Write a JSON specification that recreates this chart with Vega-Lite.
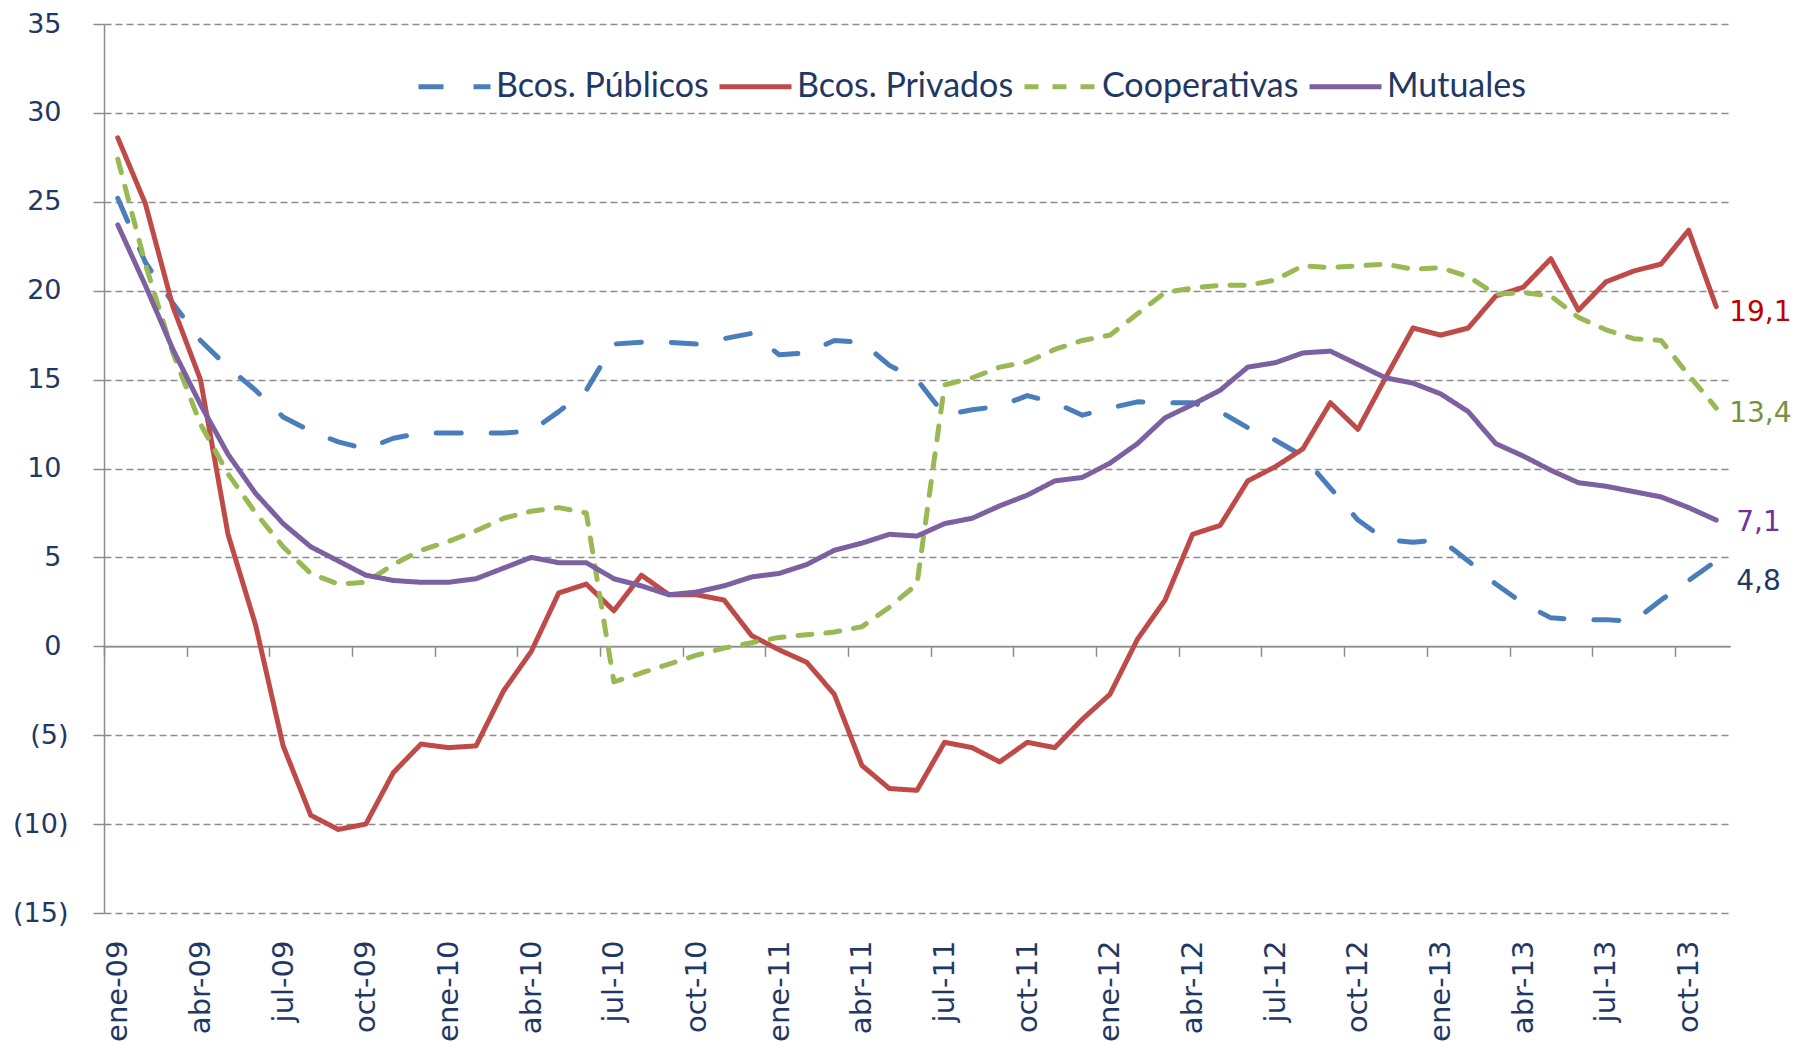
{
  "$schema": "https://vega.github.io/schema/vega-lite/v6.json",
  "width": 1626,
  "height": 889,
  "autosize": {"type": "none"},
  "padding": {"left": 104, "top": 24, "right": 69, "bottom": 130},
  "background": "white",
  "config": {
    "view": {"stroke": null},
    "locale": {"number": {"decimal": ",", "thousands": ".", "grouping": [3], "currency": ["$", ""]}}
  },
  "datasets": {
    "d": [
      {"mes": "ene-09", "pub": 25.2, "priv": 28.6, "coop": 27.4, "mut": 23.7},
      {"mes": "feb-09", "pub": 21.6, "priv": 24.9, "coop": 21.5, "mut": 20.3},
      {"mes": "mar-09", "pub": 19.3, "priv": 19.1, "coop": 16.5, "mut": 16.7},
      {"mes": "abr-09", "pub": 17.2, "priv": 15.0, "coop": 12.5, "mut": 13.6},
      {"mes": "may-09", "pub": 15.7, "priv": 6.3, "coop": 9.7, "mut": 10.8},
      {"mes": "jun-09", "pub": 14.4, "priv": 1.2, "coop": 7.5, "mut": 8.6},
      {"mes": "jul-09", "pub": 12.9, "priv": -5.6, "coop": 5.6, "mut": 6.9},
      {"mes": "ago-09", "pub": 12.1, "priv": -9.5, "coop": 4.1, "mut": 5.6},
      {"mes": "sep-09", "pub": 11.5, "priv": -10.3, "coop": 3.5, "mut": 4.8},
      {"mes": "oct-09", "pub": 11.1, "priv": -10.0, "coop": 3.6, "mut": 4.0},
      {"mes": "nov-09", "pub": 11.7, "priv": -7.1, "coop": 4.6, "mut": 3.7},
      {"mes": "dic-09", "pub": 12.0, "priv": -5.5, "coop": 5.4, "mut": 3.6},
      {"mes": "ene-10", "pub": 12.0, "priv": -5.7, "coop": 5.9, "mut": 3.6},
      {"mes": "feb-10", "pub": 12.0, "priv": -5.6, "coop": 6.5, "mut": 3.8},
      {"mes": "mar-10", "pub": 12.0, "priv": -2.5, "coop": 7.2, "mut": 4.4},
      {"mes": "abr-10", "pub": 12.1, "priv": -0.3, "coop": 7.6, "mut": 5.0},
      {"mes": "may-10", "pub": 13.2, "priv": 3.0, "coop": 7.8, "mut": 4.7},
      {"mes": "jun-10", "pub": 14.4, "priv": 3.5, "coop": 7.5, "mut": 4.7},
      {"mes": "jul-10", "pub": 17.0, "priv": 2.0, "coop": -2.0, "mut": 3.8},
      {"mes": "ago-10", "pub": 17.1, "priv": 4.0, "coop": -1.5, "mut": 3.4},
      {"mes": "sep-10", "pub": 17.1, "priv": 2.9, "coop": -1.0, "mut": 2.9},
      {"mes": "oct-10", "pub": 17.0, "priv": 2.9, "coop": -0.5, "mut": 3.05},
      {"mes": "nov-10", "pub": 17.3, "priv": 2.6, "coop": -0.1, "mut": 3.4},
      {"mes": "dic-10", "pub": 17.6, "priv": 0.6, "coop": 0.2, "mut": 3.9},
      {"mes": "ene-11", "pub": 16.4, "priv": -0.2, "coop": 0.5, "mut": 4.1},
      {"mes": "feb-11", "pub": 16.5, "priv": -0.9, "coop": 0.65, "mut": 4.6},
      {"mes": "mar-11", "pub": 17.2, "priv": -2.7, "coop": 0.8, "mut": 5.4},
      {"mes": "abr-11", "pub": 17.1, "priv": -6.7, "coop": 1.1, "mut": 5.8},
      {"mes": "may-11", "pub": 15.8, "priv": -8.0, "coop": 2.2, "mut": 6.3},
      {"mes": "jun-11", "pub": 15.0, "priv": -8.1, "coop": 3.5, "mut": 6.2},
      {"mes": "jul-11", "pub": 13.0, "priv": -5.4, "coop": 14.7, "mut": 6.9},
      {"mes": "ago-11", "pub": 13.3, "priv": -5.7, "coop": 15.1, "mut": 7.2},
      {"mes": "sep-11", "pub": 13.5, "priv": -6.5, "coop": 15.7, "mut": 7.9},
      {"mes": "oct-11", "pub": 14.1, "priv": -5.4, "coop": 16.0, "mut": 8.5},
      {"mes": "nov-11", "pub": 13.7, "priv": -5.7, "coop": 16.7, "mut": 9.3},
      {"mes": "dic-11", "pub": 13.0, "priv": -4.1, "coop": 17.2, "mut": 9.5},
      {"mes": "ene-12", "pub": 13.4, "priv": -2.7, "coop": 17.5, "mut": 10.3},
      {"mes": "feb-12", "pub": 13.75, "priv": 0.4, "coop": 18.7, "mut": 11.4},
      {"mes": "mar-12", "pub": 13.7, "priv": 2.6, "coop": 19.9, "mut": 12.85},
      {"mes": "abr-12", "pub": 13.7, "priv": 6.3, "coop": 20.15, "mut": 13.6},
      {"mes": "may-12", "pub": 13.2, "priv": 6.8, "coop": 20.3, "mut": 14.4},
      {"mes": "jun-12", "pub": 12.3, "priv": 9.3, "coop": 20.3, "mut": 15.7},
      {"mes": "jul-12", "pub": 11.6, "priv": 10.1, "coop": 20.6, "mut": 15.95},
      {"mes": "ago-12", "pub": 10.7, "priv": 11.1, "coop": 21.4, "mut": 16.5},
      {"mes": "sep-12", "pub": 8.9, "priv": 13.7, "coop": 21.3, "mut": 16.6},
      {"mes": "oct-12", "pub": 7.1, "priv": 12.2, "coop": 21.4, "mut": 15.85},
      {"mes": "nov-12", "pub": 6.0, "priv": 15.1, "coop": 21.5, "mut": 15.1},
      {"mes": "dic-12", "pub": 5.85, "priv": 17.9, "coop": 21.2, "mut": 14.8},
      {"mes": "ene-13", "pub": 6.0, "priv": 17.5, "coop": 21.3, "mut": 14.2},
      {"mes": "feb-13", "pub": 4.8, "priv": 17.9, "coop": 20.8, "mut": 13.2},
      {"mes": "mar-13", "pub": 3.5, "priv": 19.7, "coop": 19.8, "mut": 11.4},
      {"mes": "abr-13", "pub": 2.4, "priv": 20.2, "coop": 19.9, "mut": 10.7},
      {"mes": "may-13", "pub": 1.6, "priv": 21.8, "coop": 19.7, "mut": 9.9},
      {"mes": "jun-13", "pub": 1.5, "priv": 18.9, "coop": 18.5, "mut": 9.2},
      {"mes": "jul-13", "pub": 1.5, "priv": 20.5, "coop": 17.8, "mut": 9.0},
      {"mes": "ago-13", "pub": 1.4, "priv": 21.1, "coop": 17.3, "mut": 8.7},
      {"mes": "sep-13", "pub": 2.6, "priv": 21.5, "coop": 17.2, "mut": 8.4},
      {"mes": "oct-13", "pub": 3.7, "priv": 23.4, "coop": 15.25, "mut": 7.8},
      {"mes": "nov-13", "pub": 4.8, "priv": 19.1, "coop": 13.4, "mut": 7.1}
    ]
  },
  "data": {"name": "d"},
  "layer": [
    {
      "transform": [{"fold": ["pub", "priv", "coop", "mut"], "as": ["serie", "valor"]}],
      "mark": {"type": "line", "strokeCap": "round", "strokeJoin": "round", "strokeWidth": 5},
      "encoding": {
        "x": {
          "field": "mes", "type": "ordinal",
          "scale": {"type": "point", "padding": 0.5,
            "domain": ["ene-09","feb-09","mar-09","abr-09","may-09","jun-09","jul-09","ago-09","sep-09","oct-09","nov-09","dic-09","ene-10","feb-10","mar-10","abr-10","may-10","jun-10","jul-10","ago-10","sep-10","oct-10","nov-10","dic-10","ene-11","feb-11","mar-11","abr-11","may-11","jun-11","jul-11","ago-11","sep-11","oct-11","nov-11","dic-11","ene-12","feb-12","mar-12","abr-12","may-12","jun-12","jul-12","ago-12","sep-12","oct-12","nov-12","dic-12","ene-13","feb-13","mar-13","abr-13","may-13","jun-13","jul-13","ago-13","sep-13","oct-13","nov-13"]},
          "axis": {
            "title": null,
            "values": ["ene-09","abr-09","jul-09","oct-09","ene-10","abr-10","jul-10","oct-10","ene-11","abr-11","jul-11","oct-11","ene-12","abr-12","jul-12","oct-12","ene-13","abr-13","jul-13","oct-13"],
            "labelAngle": -90, "labelAlign": "right", "labelBaseline": "middle",
            "labelFont": "DejaVu Sans", "labelFontSize": 29, "labelColor": "#1F3864",
            "labelOverlap": false, "labelLimit": 0,
            "offset": -266.7,
            "domainColor": "#8C8C8C", "domainWidth": 1.5,
            "tickColor": "#8C8C8C", "tickSize": 10, "tickWidth": 1.5,
            "tickOffset": -13.78, "labelOffset": 13.78, "labelPadding": 283.7,
            "grid": false
          }
        },
        "y": {
          "field": "valor", "type": "quantitative",
          "scale": {"domain": [-15, 35], "nice": false, "zero": false},
          "axis": {
            "title": null,
            "values": [-15, -10, -5, 0, 5, 10, 15, 20, 25, 30, 35],
            "grid": true, "gridColor": "#8C8C8C", "gridWidth": 1.3,
            "gridDash": {"condition": {"test": "datum.value === 0", "value": [1, 0]}, "value": [7, 4]},
            "domainColor": "#8C8C8C", "domainWidth": 1.5,
            "tickColor": "#8C8C8C", "tickSize": 11, "tickWidth": 1.5,
            "labelFont": "DejaVu Sans", "labelFontSize": 27, "labelColor": "#1F3864",
            "labelPadding": {"condition": {"test": "datum.value < 0", "value": 25}, "value": 32},
            "labelExpr": "datum.value < 0 ? '(' + abs(datum.value) + ')' : '' + datum.value"
          }
        },
        "color": {
          "field": "serie", "type": "nominal",
          "scale": {"domain": ["pub", "priv", "coop", "mut"], "range": ["#4A7EBB", "#BE4B48", "#98B954", "#7D60A0"]},
          "legend": {
            "title": null, "orient": "none", "legendX": 312, "legendY": 24, "direction": "horizontal",
            "symbolType": "stroke", "symbolSize": 5184, "symbolStrokeWidth": 5,
            "labelFont": "Lato", "labelFontSize": 34, "labelColor": "#1F3864", "labelOffset": 3,
            "columnPadding": 0, "padding": 0, "labelLimit": 0,
            "labelExpr": "{'pub': 'Bcos. Públicos', 'priv': 'Bcos. Privados', 'coop': 'Cooperativas', 'mut': 'Mutuales'}[datum.label]"
          }
        },
        "strokeDash": {
          "field": "serie", "type": "nominal",
          "scale": {"domain": ["pub", "priv", "coop", "mut"], "range": [[25, 30], [1, 0], [14, 14], [1, 0]]},
          "legend": {
            "title": null, "orient": "none", "legendX": 312, "legendY": 24, "direction": "horizontal",
            "symbolType": "stroke", "symbolSize": 5184, "symbolStrokeWidth": 5,
            "labelFont": "Lato", "labelFontSize": 34, "labelColor": "#1F3864", "labelOffset": 3,
            "columnPadding": 0, "padding": 0, "labelLimit": 0,
            "labelExpr": "{'pub': 'Bcos. Públicos', 'priv': 'Bcos. Privados', 'coop': 'Cooperativas', 'mut': 'Mutuales'}[datum.label]"
          }
        }
      }
    },
    {
      "transform": [{"filter": "datum.mes === 'nov-13'"}, {"fold": ["priv"], "as": ["serie", "valor"]}],
      "mark": {"type": "text", "align": "left", "baseline": "middle", "dx": 13, "dy": 6, "font": "DejaVu Sans", "fontSize": 28, "color": "#C00000"},
      "encoding": {
        "x": {"field": "mes", "type": "ordinal"},
        "y": {"field": "valor", "type": "quantitative"},
        "text": {"field": "valor", "type": "quantitative", "format": ".1f"}
      }
    },
    {
      "transform": [{"filter": "datum.mes === 'nov-13'"}, {"fold": ["coop"], "as": ["serie", "valor"]}],
      "mark": {"type": "text", "align": "left", "baseline": "middle", "dx": 13, "dy": 6, "font": "DejaVu Sans", "fontSize": 28, "color": "#76923C"},
      "encoding": {
        "x": {"field": "mes", "type": "ordinal"},
        "y": {"field": "valor", "type": "quantitative"},
        "text": {"field": "valor", "type": "quantitative", "format": ".1f"}
      }
    },
    {
      "transform": [{"filter": "datum.mes === 'nov-13'"}, {"fold": ["mut"], "as": ["serie", "valor"]}],
      "mark": {"type": "text", "align": "left", "baseline": "middle", "dx": 20, "dy": 3, "font": "DejaVu Sans", "fontSize": 28, "color": "#7030A0"},
      "encoding": {
        "x": {"field": "mes", "type": "ordinal"},
        "y": {"field": "valor", "type": "quantitative"},
        "text": {"field": "valor", "type": "quantitative", "format": ".1f"}
      }
    },
    {
      "transform": [{"filter": "datum.mes === 'nov-13'"}, {"fold": ["pub"], "as": ["serie", "valor"]}],
      "mark": {"type": "text", "align": "left", "baseline": "middle", "dx": 20, "dy": 21, "font": "DejaVu Sans", "fontSize": 28, "color": "#1F3864"},
      "encoding": {
        "x": {"field": "mes", "type": "ordinal"},
        "y": {"field": "valor", "type": "quantitative"},
        "text": {"field": "valor", "type": "quantitative", "format": ".1f"}
      }
    }
  ]
}
